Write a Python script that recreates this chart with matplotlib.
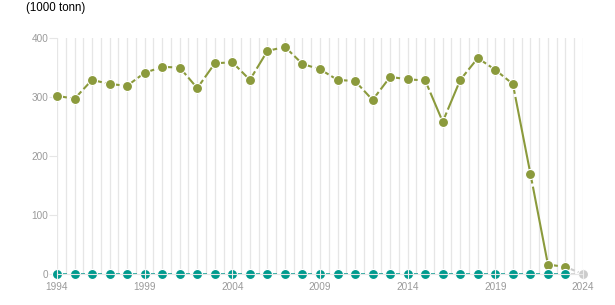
import numpy as np
import matplotlib
matplotlib.use('Agg')
import matplotlib.pyplot as plt

# data
years = list(range(1994, 2025))
olive_vals = [302, 297, 329, 322, 319, 341, 351, 350, 315, 357,
              359, 329, 378, 385, 356, 347, 329, 327, 295, 334,
              330, 328, 258, 329, 366, 346, 322, 170, 16, 12, 0]
teal_vals = [0] * 31
y_ticks = [0, 100, 200, 300, 400]
x_ticks = [1994, 1999, 2004, 2009, 2014, 2019, 2024]

OLIVE = '#8b9a3c'
TEAL = '#009a8e'
GREY = '#cccccc'
TICK_COL = '#9a9a9a'

plt.rcParams['lines.scale_dashes'] = False
plt.rcParams['font.family'] = ['Liberation Sans', 'DejaVu Sans']

fig = plt.figure(figsize=(6.15, 3.05), dpi=100)
ax = fig.add_axes([57 / 615, 1 - 274 / 305, 526 / 615, 236 / 305])

# vertical grid, two lines per year
for gx in np.arange(1994, 2024.01, 0.5):
    ax.axvline(gx, color='#e6e6e6', lw=0.9, zorder=0)

# dash restarts at every point: short gap after the marker, then solid
seg_dash = (7.2, 2.3, 400, 1)


def draw_segments(xs, ys, color, lw):
    n = len(xs)
    for i in range(n - 1):
        c = GREY if i == n - 2 else color
        ax.plot(xs[i:i + 2], ys[i:i + 2], color=c, lw=lw, dashes=seg_dash,
                solid_capstyle='butt', dash_capstyle='butt', zorder=3)


draw_segments(years, olive_vals, OLIVE, 1.5)
draw_segments(years, teal_vals, TEAL, 1.1)

ax.scatter(years[:-1], olive_vals[:-1], s=52, color=OLIVE, edgecolor='white',
           linewidth=0.8, zorder=4, clip_on=False)
ax.scatter(years[:-1], teal_vals[:-1], s=52, color=TEAL, edgecolor='white',
           linewidth=0.8, zorder=5, clip_on=False)
ax.scatter(years[-1:], teal_vals[-1:], s=52, color=GREY, edgecolor='white',
           linewidth=0.8, zorder=5, clip_on=False)

# baseline drawn on top of markers
ax.axhline(0, color='#e6e6e6', lw=0.8, zorder=6, clip_on=False)

ax.set_xlim(1994, 2024)
ax.set_ylim(0, 400)
ax.set_xticks(x_ticks)
ax.set_yticks(y_ticks)
ax.xaxis.set_zorder(7)
ax.tick_params(axis='x', colors='#eeeeee', labelcolor=TICK_COL, labelsize=7.2,
               length=7, width=0.8, pad=2, direction='inout')
ax.tick_params(axis='y', colors='#e6e6e6', labelcolor=TICK_COL, labelsize=7.2,
               length=5.8, width=0.8, pad=0.3)
for sp in ax.spines.values():
    sp.set_visible(False)

fig.text(26 / 615, 1 - 8 / 305, '(1000 tonn)', fontsize=8.3, color='black',
         va='center', ha='left')

fig.savefig('out.png', dpi=100)
